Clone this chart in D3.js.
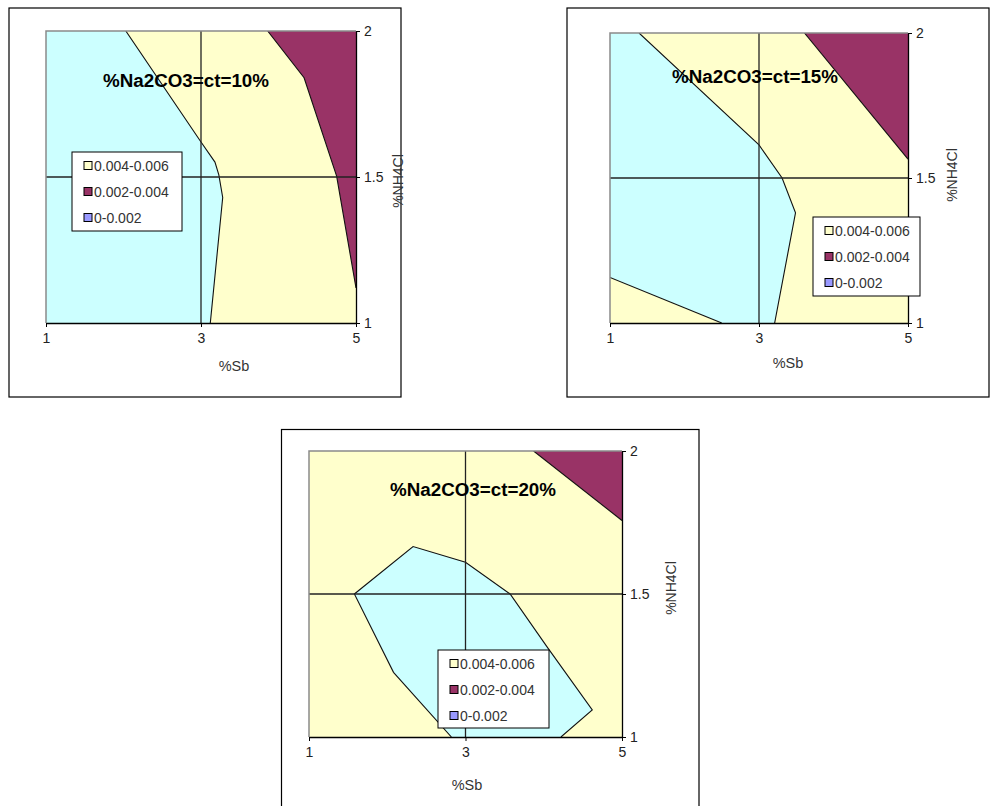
<!DOCTYPE html>
<html>
<head>
<meta charset="utf-8">
<script src="https://cdn.jsdelivr.net/npm/d3@7"></script>
<style>
  html, body { margin: 0; padding: 0; background: #fff; }
  svg { display: block; }
  text { font-family: "Liberation Sans", Arial, sans-serif; }
</style>
</head>
<body>
<svg id="chart" width="990" height="806"></svg>
<script>
// ---------- data ----------
const sbTicks = [1, 3, 5];
const nh4clTicks = [1, 1.5, 2];
const xTitle = "%Sb";
const yTitle = "%NH4Cl";
const legendLabels = ["0.004-0.006", "0.002-0.004", "0-0.002"];
const legendColors = ["#FFFFCC", "#993366", "#9999FF"];
const titles = ["%Na2CO3=ct=10%", "%Na2CO3=ct=15%", "%Na2CO3=ct=20%"];

// Contour boundaries, [%Sb, %NH4Cl]
// 10 % Na2CO3
const c10LowBoundary = [[2.03, 2], [3.0, 1.62], [3.18, 1.551], [3.23, 1.507], [3.28, 1.43], [3.12, 1]];
const c10HighBoundary = [[3.86, 2], [4.33, 1.84], [4.75, 1.503], [5, 1.12]];
// 15 % Na2CO3
const c15LowUpper = [[1.39, 2], [3.0, 1.614], [3.31, 1.5], [3.49, 1.38], [3.21, 1]];
const c15LowLower = [[1, 1.157], [2.5, 1]];
const c15HighBoundary = [[3.61, 2], [5, 1.565]];
// 20 % Na2CO3
const c20LowBoundary = [[2.82, 1], [2.08, 1.226], [1.58, 1.5], [2.33, 1.666], [3.0, 1.611], [3.57, 1.5], [4.04, 1.316], [4.62, 1.095], [4.22, 1]];
const c20HighBoundary = [[3.87, 2], [5, 1.757]];

// ---------- layout ----------
const colors = { low: "#CCFFFF", mid: "#FFFFCC", high: "#993366" };
const FONT = "'Liberation Sans', Arial, sans-serif";
const charts = [
  {
    frame: { x: 9, y: 8, w: 392, h: 389 },
    plot: { x0: 46, x1: 356, y0: 31, y1: 323 },
    title: titles[0], titlePos: [186, 87],
    lowPoly: [[1, 2], ...c10LowBoundary, [1, 1]],
    lowLines: [c10LowBoundary],
    highPoly: [...c10HighBoundary, [5, 2]],
    highLines: [c10HighBoundary],
    legend: { x: 72, y: 152, w: 110, h: 79 },
    xTitlePos: [234, 371], yTitlePos: [398, 181]
  },
  {
    frame: { x: 567, y: 8, w: 422, h: 389 },
    plot: { x0: 610, x1: 908, y0: 33, y1: 323 },
    title: titles[1], titlePos: [755, 83],
    lowPoly: [[1, 2], ...c15LowUpper, ...c15LowLower.slice().reverse()],
    lowLines: [c15LowUpper, c15LowLower],
    highPoly: [...c15HighBoundary, [5, 2]],
    highLines: [c15HighBoundary],
    legend: { x: 813, y: 217, w: 107, h: 79 },
    xTitlePos: [788, 368], yTitlePos: [952, 175]
  },
  {
    frame: { x: 281.5, y: 429.5, w: 417.5, h: 400 },
    plot: { x0: 309, x1: 622, y0: 451, y1: 737 },
    title: titles[2], titlePos: [473, 496],
    lowPoly: c20LowBoundary,
    lowLines: [c20LowBoundary],
    highPoly: [...c20HighBoundary, [5, 2]],
    highLines: [c20HighBoundary],
    legend: { x: 438, y: 650, w: 111, h: 78 },
    xTitlePos: [467, 790], yTitlePos: [671, 588]
  }
];

const svg = d3.select("#chart");

charts.forEach((c, i) => {
  const g = svg.append("g");
  const p = c.plot;
  const x = d3.scaleLinear().domain([1, 5]).range([p.x0, p.x1]);
  const y = d3.scaleLinear().domain([1, 2]).range([p.y1, p.y0]);
  const line = d3.line().x(d => x(d[0])).y(d => y(d[1]));

  // frame
  g.append("rect")
    .attr("x", c.frame.x).attr("y", c.frame.y)
    .attr("width", c.frame.w).attr("height", c.frame.h)
    .attr("fill", "#fff").attr("stroke", "#000").attr("stroke-width", 1.2);

  const clipId = "clip" + i;
  g.append("clipPath").attr("id", clipId).append("rect")
    .attr("x", p.x0).attr("y", p.y0)
    .attr("width", p.x1 - p.x0).attr("height", p.y1 - p.y0);

  const pg = g.append("g").attr("clip-path", `url(#${clipId})`);
  pg.append("rect")
    .attr("x", p.x0).attr("y", p.y0)
    .attr("width", p.x1 - p.x0).attr("height", p.y1 - p.y0)
    .attr("fill", colors.mid);
  pg.append("path").attr("d", line(c.lowPoly) + "Z").attr("fill", colors.low);
  pg.append("path").attr("d", line(c.highPoly) + "Z").attr("fill", colors.high);
  c.lowLines.concat(c.highLines).forEach(l => {
    pg.append("path").attr("d", line(l))
      .attr("fill", "none").attr("stroke", "#111").attr("stroke-width", 1.1);
  });

  // gridlines
  g.append("line")
    .attr("x1", x(3)).attr("x2", x(3)).attr("y1", p.y0).attr("y2", p.y1)
    .attr("stroke", "#222").attr("stroke-width", 1.3);
  g.append("line")
    .attr("x1", p.x0).attr("x2", p.x1).attr("y1", y(1.5)).attr("y2", y(1.5))
    .attr("stroke", "#222").attr("stroke-width", 1.3);

  // gray plot border (top & left)
  g.append("path")
    .attr("d", `M${p.x0},${p.y1}V${p.y0}H${p.x1}`)
    .attr("fill", "none").attr("stroke", "#8a8a8a").attr("stroke-width", 1.5);

  // axes
  const xAxis = d3.axisBottom(x).tickValues(sbTicks).tickFormat(d3.format("d"))
    .tickSize(4).tickPadding(6).tickSizeOuter(0);
  const yAxis = d3.axisRight(y).tickValues(nh4clTicks).tickFormat(d => d === 1.5 ? "1.5" : String(d))
    .tickSize(4).tickPadding(4).tickSizeOuter(0);
  const xa = g.append("g").attr("transform", `translate(0,${p.y1})`).call(xAxis);
  const ya = g.append("g").attr("transform", `translate(${p.x1},0)`).call(yAxis);
  [xa, ya].forEach(a => {
    a.attr("font-size", 14).attr("font-family", FONT);
    a.select(".domain").attr("stroke", "#000").attr("stroke-width", 1.3);
    a.selectAll(".tick line").attr("stroke", "#000");
    a.selectAll(".tick text").attr("fill", "#222").attr("font-size", 14);
  });

  // title
  g.append("text")
    .attr("x", c.titlePos[0]).attr("y", c.titlePos[1])
    .attr("text-anchor", "middle")
    .attr("font-size", 18.8).attr("font-weight", "bold")
    .attr("fill", "#000").text(c.title);

  // legend
  const L = c.legend;
  const lg = g.append("g").attr("transform", `translate(${L.x},${L.y})`);
  lg.append("rect").attr("width", L.w).attr("height", L.h)
    .attr("fill", "#fff").attr("stroke", "#000").attr("stroke-width", 1);
  legendLabels.forEach((lab, k) => {
    const cy = 13.5 + k * 26;
    lg.append("rect")
      .attr("x", 12).attr("y", cy - 4).attr("width", 8).attr("height", 8)
      .attr("fill", legendColors[k]).attr("stroke", "#000").attr("stroke-width", 1);
    lg.append("text")
      .attr("x", 22).attr("y", cy + 5)
      .attr("font-size", 14).attr("fill", "#333").text(lab);
  });

  // axis titles
  g.append("text")
    .attr("x", c.xTitlePos[0]).attr("y", c.xTitlePos[1])
    .attr("text-anchor", "middle").attr("font-size", 14.5).attr("fill", "#333")
    .text(xTitle);
  g.append("text")
    .attr("transform", `translate(${c.yTitlePos[0] + 5},${c.yTitlePos[1]}) rotate(-90)`)
    .attr("text-anchor", "middle").attr("font-size", 14).attr("fill", "#333")
    .text(yTitle);
});
</script>
</body>
</html>
